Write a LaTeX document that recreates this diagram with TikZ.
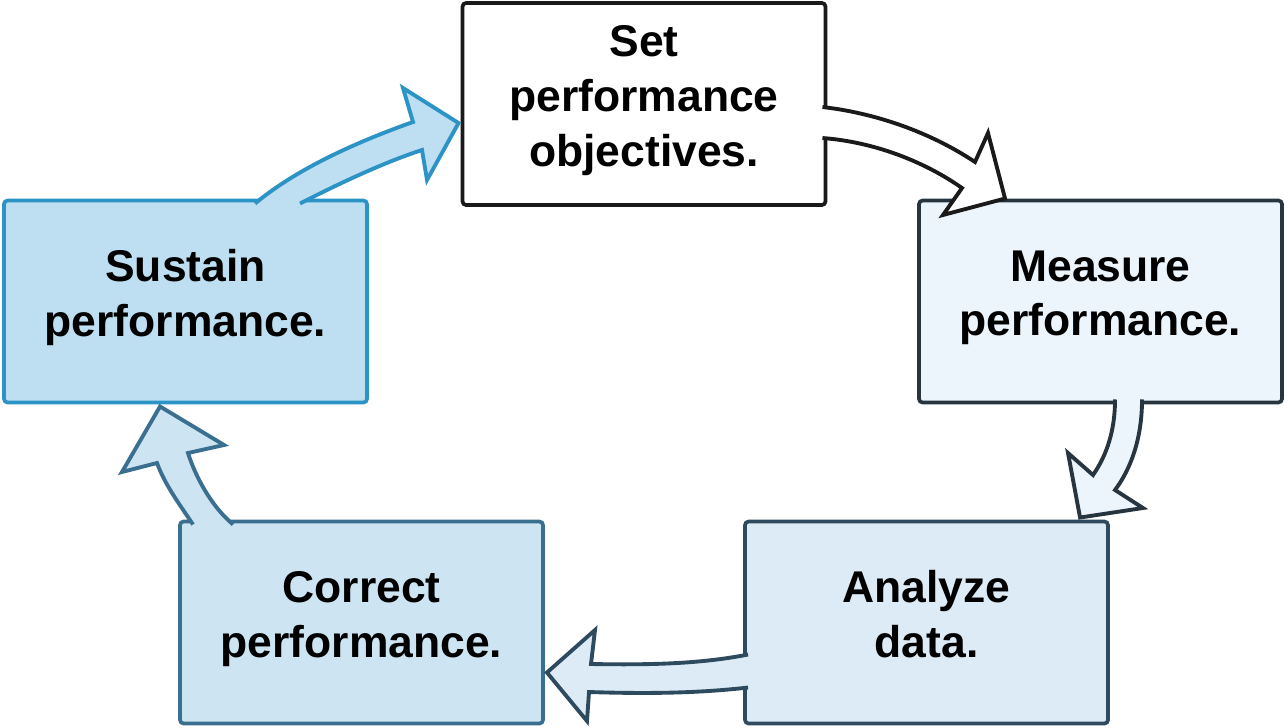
\documentclass[tikz,border=0pt]{standalone}
\usepackage{fontspec}
\setmainfont{Liberation Sans}
\usetikzlibrary{calc,positioning}
\definecolor{sustainfill}{HTML}{BEDFF1}
\definecolor{sustainline}{HTML}{2B93C6}
\definecolor{correctfill}{HTML}{CDE4F2}
\definecolor{correctline}{HTML}{3B6F90}
\definecolor{analyzefill}{HTML}{DDEBF6}
\definecolor{analyzeline}{HTML}{2E4A5F}
\definecolor{measurefill}{HTML}{ECF4FC}
\definecolor{measureline}{HTML}{26353F}
\definecolor{setline}{HTML}{1A1A1A}
\begin{document}
\begin{tikzpicture}[x=0.02cm, y=-0.02cm,
  box/.style={draw, rounded corners=2pt, line width=2.1pt, minimum width=7.26cm, minimum height=4.04cm, inner sep=0pt, outer sep=0pt, align=center, font=\fontsize{25.3}{31.2}\selectfont\bfseries, execute at begin node=\strut, execute at end node=\strut},
  arr/.style={line width=2.2pt, line join=miter}]
                      \useasboundingbox (0,0) rectangle (1284,727);
                      \node[box, fill=white, draw=setline] (set) at (644,104) {Set\\performance\\objectives.};
                      \node[box, fill=measurefill, draw=measureline] (measure) at (1100.5,301.5) {Measure\\performance.};
                      \node[box, fill=analyzefill, draw=analyzeline] (analyze) at (926.5,622.5) {Analyze\\data.};
                      \node[box, fill=correctfill, draw=correctline] (correct) at (361.5,622.5) {Correct\\performance.};
                      \node[box, fill=sustainfill, draw=sustainline] (sustain) at (185.5,301.5) {Sustain\\performance.};

                      \filldraw[arr, fill=sustainfill, draw=sustainline] ($(sustain.north west)+(251,3)$) .. controls (300,166) and (365,139) .. (413,122) -- (403,88) -- ($(set.north west)+(-4,120)$) -- (427,180) -- (422,150) .. controls (385,162) and (340,183) .. ($(sustain.north west)+(296,3)$);
                      \filldraw[arr, fill=white, draw=setline] ($(set.north east)+(-3,104)$) .. controls (875,113) and (930,132) .. (975,162) -- (988,133) -- ($(measure.north west)+(86,-2)$) -- (943,215) -- (962,188) .. controls (925,162) and (875,142) .. ($(set.north east)+(-3,135)$);
                      \filldraw[arr, fill=measurefill, draw=measureline] ($(measure.south west)+(196,-3)$) .. controls (1115,430) and (1107,455) .. (1093,475) -- (1068,453) -- ($(analyze.north west)+(335,-4)$) -- (1143,508) -- (1115,490) .. controls (1130,470) and (1142,440) .. ($(measure.south west)+(223,-3)$);
                      \filldraw[arr, fill=analyzefill, draw=analyzeline] ($(analyze.north west)+(3,133)$) .. controls (700,664) and (650,665) .. (591,664) -- (595,630) -- ($(correct.north east)+(4,151)$) -- (587,721) -- (589,692) .. controls (650,694) and (700,693) .. ($(analyze.north west)+(3,166)$);
                      \filldraw[arr, fill=correctfill, draw=correctline] ($(correct.north west)+(13,3)$) .. controls (180,505) and (165,485) .. (157,463) -- (122,472) -- ($(sustain.south west)+(156,4)$) -- (224,445) -- (188,453) .. controls (195,475) and (210,505) .. ($(correct.north west)+(53,3)$);
                    \end{tikzpicture}
\end{document}
